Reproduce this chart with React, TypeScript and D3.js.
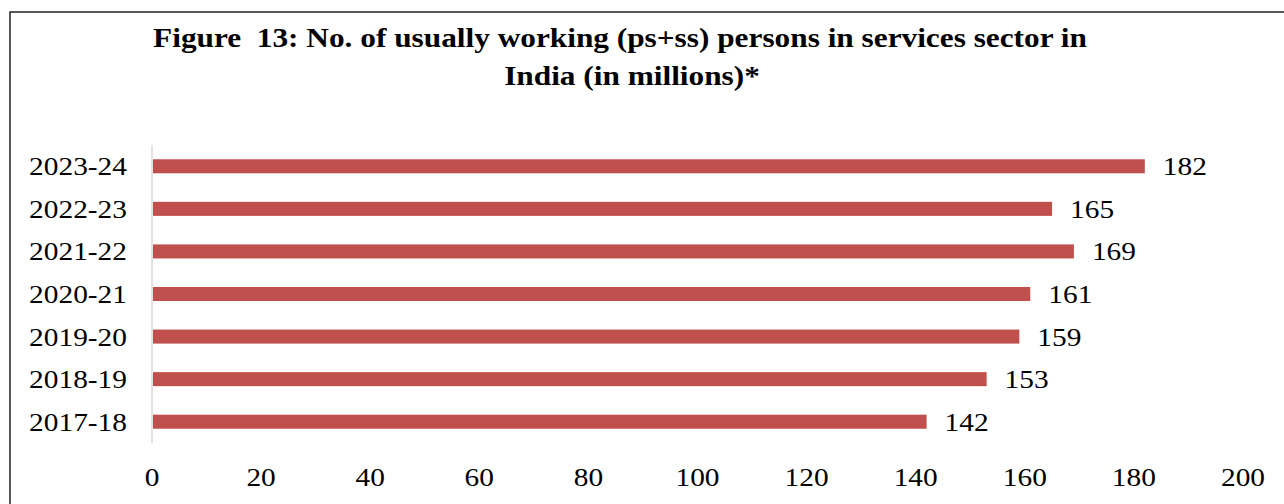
import React from "react";
import * as d3 from "d3";

const categories = ["2023-24", "2022-23", "2021-22", "2020-21", "2019-20", "2018-19", "2017-18"];
const values = [182, 165, 169, 161, 159, 153, 142];
const xTicks = [0, 20, 40, 60, 80, 100, 120, 140, 160, 180, 200];
const titleLines = [
  "Figure\u00a0\u00a013: No.\u00a0of usually working (ps+ss) persons in services sector in",
  "India (in millions)*",
];

const W = 1284;
const H = 504;
const FONT = "'Liberation Serif', 'Times New Roman', serif";
const SX = 1.13;

export default function App() {
  const x = d3.scaleLinear().domain([0, 200]).range([152, 1243]);
  const y = d3.scaleBand<string>().domain(categories).range([145, 443]).paddingInner(0.67).paddingOuter(0.335);
  const bw = y.bandwidth();

  const T = (px: number, py: number, anchor: string, txt: string, size = 26, weight = 400, key?: any, sx = SX) => (
    <text
      key={key}
      transform={`translate(${px},${py}) scale(${sx},1)`}
      textAnchor={anchor}
      fontFamily={FONT}
      fontSize={size}
      fontWeight={weight}
      fill="#000"
    >
      {txt}
    </text>
  );

  const titlePos = [
    [620, 47],
    [632, 85],
  ];

  return (
    <svg width={W} height={H} style={{ position: "absolute", left: 0, top: 0, background: "#fff" }}>
      <rect x={10} y={12} width={1300} height={600} fill="#fff" stroke="#222" strokeWidth={1.5} />
      {titleLines.map((t, i) => T(titlePos[i][0], titlePos[i][1], "middle", t, 27, 700, "t" + i, 1.16))}
      <line x1={x(0)} x2={x(0)} y1={145} y2={443} stroke="#d9d9d9" strokeWidth={1.5} />
      {categories.map((c, i) => (
        <g key={c}>
          <rect x={x(0) + 1} y={y(c)!} width={x(values[i]) - x(0) - 1} height={bw} fill="#c0504d" />
          {T(x(values[i]) + 18, y(c)! + bw / 2 + 9, "start", String(values[i]))}
          {T(127, y(c)! + bw / 2 + 9, "end", c)}
        </g>
      ))}
      {xTicks.map((t) => T(x(t), 486, "middle", String(t), 26, 400, "x" + t))}
    </svg>
  );
}
